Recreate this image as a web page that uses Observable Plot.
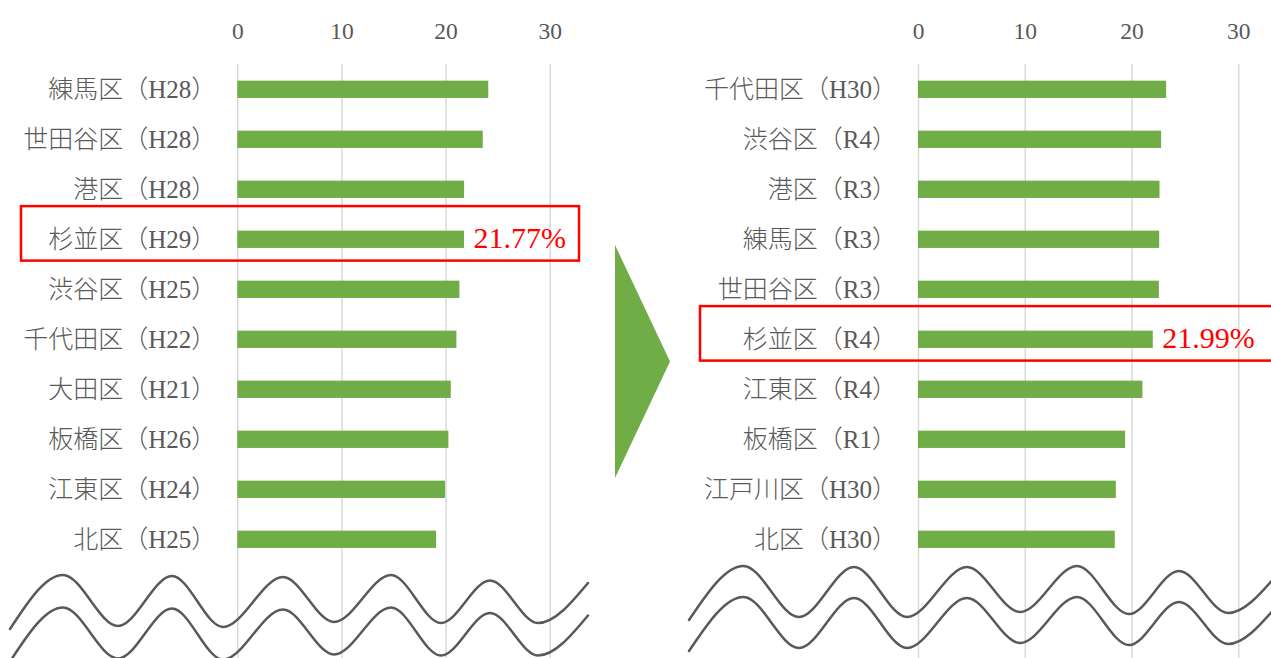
<!DOCTYPE html>
<html><head><meta charset="utf-8">
<script src="https://cdn.jsdelivr.net/npm/d3@7"></script>
<script src="https://cdn.jsdelivr.net/npm/@observablehq/plot@0.6"></script>
<style>
html,body{margin:0;padding:0;background:#fff;}
#wrap{position:relative;width:1271px;height:658px;overflow:hidden;background:#fff;}
.panel{position:absolute;top:0;}
#deco{position:absolute;left:0;top:0;pointer-events:none;}
</style></head><body><div id="wrap"></div>
<script>
// ---- data ----
const leftNames = ["練馬区（H28）","世田谷区（H28）","港区（H28）","杉並区（H29）","渋谷区（H25）","千代田区（H22）","大田区（H21）","板橋区（H26）","江東区（H24）","北区（H25）"];
const leftValues = [24.1, 23.57, 21.78, 21.77, 21.33, 21.04, 20.5, 20.27, 19.95, 19.09];
const rightNames = ["千代田区（H30）","渋谷区（R4）","港区（R3）","練馬区（R3）","世田谷区（R3）","杉並区（R4）","江東区（R4）","板橋区（R1）","江戸川区（H30）","北区（H30）"];
const rightValues = [23.24, 22.77, 22.62, 22.59, 22.56, 21.99, 21.02, 19.4, 18.53, 18.43];
const xTicks = [0, 10, 20, 30];
const leftHighlight = "杉並区（H29）";
const rightHighlight = "杉並区（R4）";

// ---- style ----
const FONT = '"Liberation Serif", "Noto Sans CJK JP", serif';
const GREEN = "#70ad47";
const GRAY = "#595959";
const wrap = document.getElementById("wrap");

function panel(names, values, left, width, marginLeft, xEnd, hiName, boxX1, boxX2) {
  const data = names.map((n, i) => ({name: n, value: values[i]}));
  const chart = Plot.plot({
    width, height: 658,
    marginTop: 64, marginBottom: 0, marginLeft, marginRight: 0,
    style: {fontFamily: FONT, fontSize: "24px", color: GRAY, background: "transparent", overflow: "visible"},
    x: {domain: [0, 30], range: [marginLeft, xEnd], axis: null},
    y: {type: "band", domain: names, range: [64.3, 564.3], padding: 0, round: false, axis: null},
    marks: [
      Plot.ruleX(xTicks, {x: d => d, stroke: "#d9d9d9", strokeWidth: 1.5}),
      Plot.barX(data, {x: "value", y: "name", fill: GREEN, insetTop: 16.35, insetBottom: 16.35}),
      Plot.axisX(xTicks, {anchor: "top", tickSize: 0, tickPadding: 26, fontSize: 23.5, fill: GRAY, label: null}),
      Plot.axisY({anchor: "left", tickSize: 0, tickPadding: 21.5, fontSize: 25, fontWeight: 300, fill: GRAY, label: null}),
      Plot.text(data.filter(d => d.name === hiName), {
        x: "value", y: "name", text: d => d.value.toFixed(2) + "%",
        dx: 9, dy: -1, textAnchor: "start", fill: "#ff0000", fontSize: 30, fontFamily: FONT
      })
    ]
  });
  chart.classList.add("panel");
  chart.style.left = left + "px";
  wrap.appendChild(chart);
  // highlight box
  const ys = chart.scale("y");
  const yc = ys.apply(hiName) + ys.bandwidth / 2;
  d3.select(chart).append("rect")
    .attr("x", boxX1).attr("y", yc - 33.2)
    .attr("width", boxX2 - boxX1).attr("height", 54.5)
    .attr("fill", "none").attr("stroke", "#ff0000").attr("stroke-width", 2.5);
}

panel(leftNames, leftValues, 0, 600, 237.3, 549.7, leftHighlight, 21, 579);
panel(rightNames, rightValues, 680, 591, 238, 558.3, rightHighlight, 20, 640);

// ---- decorations: arrow and break waves ----
const deco = d3.select(wrap).append("svg").attr("id", "deco").attr("width", 1271).attr("height", 658);
deco.append("polygon").attr("points", "615,245 670,361.5 615,478").attr("fill", GREEN);
const waveL = [[10,629],[63,575],[118,626],[172,576],[223,627],[283,577],[334,622],[391,575],[441,623],[490,580.5],[538,623],[588,583]];
const waveR = [[689,620],[743.5,566],[799,617],[854,567],[907,617],[967,567],[1020,612],[1077,566],[1129,614],[1179,571],[1228,613],[1275,577]];
const line = d3.line().curve(d3.curveMonotoneX);
for (const [w, off] of [[waveL, 32.5], [waveR, 31]]) {
  for (const o of [0, off]) {
    deco.append("path").attr("d", line(w.map(([x, y]) => [x, y + o])))
      .attr("fill", "none").attr("stroke", GRAY).attr("stroke-width", 2.5).attr("stroke-linecap", "round");
  }
}
</script></body></html>
